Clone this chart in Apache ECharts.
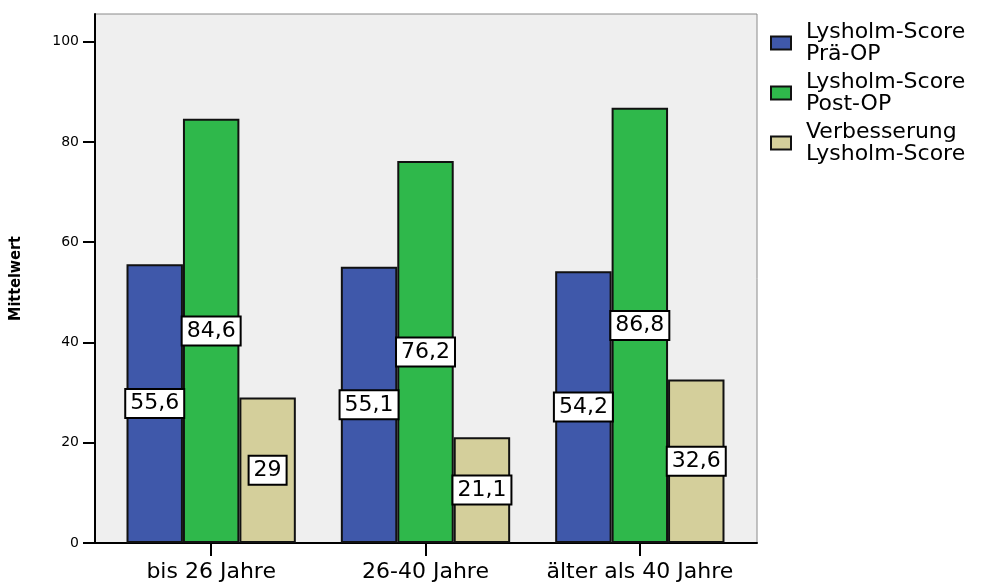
<!DOCTYPE html>
<html>
<head>
<meta charset="utf-8">
<script src="https://cdn.jsdelivr.net/npm/echarts@6/dist/echarts.min.js"></script>
<style>
  html, body { margin: 0; padding: 0; background: #fff; }
  #chart { width: 985px; height: 583px; }
</style>
</head>
<body>
<div id="chart"></div>
<script>
// Age groups and mean Lysholm scores
const categories = ['bis 26 Jahre', '26-40 Jahre', 'älter als 40 Jahre'];
const seriesNames = ['Lysholm-Score\nPrä-OP', 'Lysholm-Score\nPost-OP', 'Verbesserung\nLysholm-Score'];
const preOp = [55.6, 55.1, 54.2];
const postOp = [84.6, 76.2, 86.8];
const improvement = [29, 21.1, 32.6];
const yTicks = [0, 20, 40, 60, 80, 100];

const colors = ['#3f58aa', '#2fb84b', '#d4cf9b'];
const FONT = "'DejaVu Sans', sans-serif";
const Y_MAX = 105.5;

const chart = echarts.init(document.getElementById('chart'));

const valueLabel = {
  show: true,
  position: 'inside',
  formatter: p => String(p.value).replace('.', ','),
  color: '#000',
  fontFamily: FONT,
  fontSize: 22,
  lineHeight: 22,
  backgroundColor: '#fff',
  borderColor: '#000',
  borderWidth: 2,
  padding: [3, 4, 2, 4]
};

function barSeries(name, data, color) {
  return {
    name: name,
    type: 'bar',
    xAxisIndex: 1,
    yAxisIndex: 1,
    data: data,
    barGap: 0,
    barCategoryGap: '21%',
    itemStyle: { color: color, borderColor: '#111', borderWidth: 2 },
    label: valueLabel,
    emphasis: { disabled: true }
  };
}

chart.setOption({
  animation: false,
  grid: [
    { left: 93, right: 228, top: 14, bottom: 40, show: true,
      backgroundColor: '#efefef', borderColor: '#8a8a8a', borderWidth: 1 },
    { left: 104, right: 238, top: 14, bottom: 40 }
  ],
  legend: {
    orient: 'vertical',
    left: 765,
    top: 16,
    itemWidth: 20,
    itemHeight: 13,
    itemGap: 6,
    icon: 'rect',
    textStyle: { fontFamily: FONT, fontSize: 22, lineHeight: 22, color: '#000', padding: [0, 0, 0, 10] },
    data: seriesNames
  },
  xAxis: [
    { gridIndex: 0, type: 'value', min: 0, max: 1,
      axisLine: { show: true, lineStyle: { color: '#000', width: 2 } },
      axisTick: { show: false }, axisLabel: { show: false }, splitLine: { show: false } },
    { gridIndex: 1, type: 'category', data: categories,
      axisLine: { show: false },
      axisTick: { show: true, alignWithLabel: true, length: 13, lineStyle: { color: '#000', width: 2 } },
      axisLabel: { interval: 0, color: '#000', fontFamily: FONT, fontSize: 22, margin: 18 } }
  ],
  yAxis: [
    { gridIndex: 0, type: 'value', min: 0, max: Y_MAX,
      name: 'Mittelwert', nameLocation: 'middle', nameGap: 71, nameRotate: 90,
      nameTextStyle: { fontFamily: "'Liberation Sans Narrow', 'DejaVu Sans Condensed', sans-serif",
        fontWeight: 'bold', fontSize: 16, color: '#000' },
      axisLine: { show: true, lineStyle: { color: '#000', width: 2 } },
      axisTick: { show: true, length: 12, customValues: yTicks, lineStyle: { color: '#000', width: 2 } },
      axisLabel: { customValues: yTicks, color: '#000', fontFamily: FONT, fontSize: 14, margin: 16 },
      splitLine: { show: false } },
    { gridIndex: 1, type: 'value', min: 0, max: Y_MAX, show: false }
  ],
  series: [
    barSeries(seriesNames[0], preOp, colors[0]),
    barSeries(seriesNames[1], postOp, colors[1]),
    barSeries(seriesNames[2], improvement, colors[2])
  ]
});
</script>
</body>
</html>
